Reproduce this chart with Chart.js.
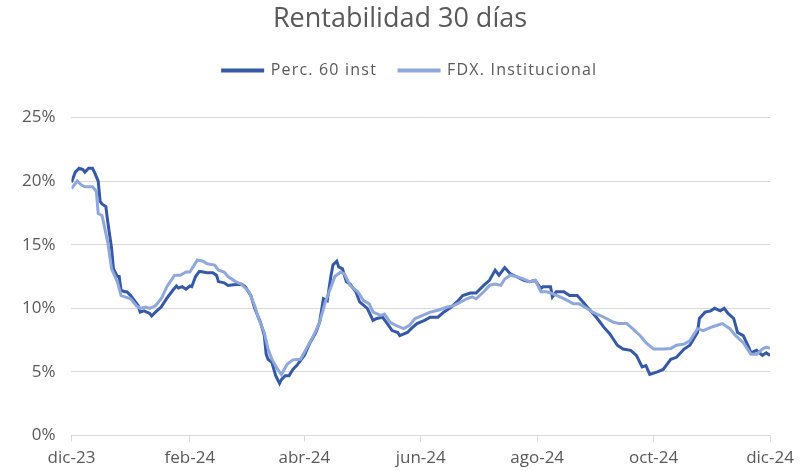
<!DOCTYPE html>
<html>
<head>
<meta charset="utf-8">
<title>Rentabilidad 30 días</title>
<script src="https://cdn.jsdelivr.net/npm/chart.js@4.4.1/dist/chart.umd.min.js"></script>
<style>
  html, body { margin: 0; padding: 0; background: #fff; }
  #chart { display: block; }
</style>
</head>
<body>
<canvas id="chart" width="807" height="471"></canvas>
<script>
// --- data (x = days since 1 Dec 2023, y = 30-day return in %) ---
const chartTitle = 'Rentabilidad 30 días';
const seriesNames = ['Perc. 60 inst', 'FDX. Institucional'];

const percDays = [
  0, 2, 4, 6, 7, 9, 11, 12, 14, 15,
  16, 18, 19, 21, 22, 24, 25, 26, 28, 29,
  31, 33, 35, 36, 38, 41, 42, 44, 47, 50,
  53, 55, 56, 58, 60, 62, 63, 65, 67, 69,
  71, 74, 76, 77, 80, 82, 85, 89, 91, 94,
  96, 99, 101, 102, 103, 105, 107, 109, 110, 112,
  114, 116, 118, 122, 125, 128, 130, 132, 134, 136,
  137, 139, 140, 142, 144, 146, 149, 151, 155, 158,
  160, 163, 165, 168, 171, 172, 176, 178, 181, 185,
  188, 192, 195, 199, 202, 205, 209, 212, 216, 219,
  222, 224, 227, 230, 233, 237, 240, 243, 246, 247,
  251, 252, 254, 258, 261, 265, 268, 272, 275, 279,
  282, 286, 289, 293, 296, 299, 301, 303, 307, 310,
  314, 317, 321, 324, 328, 329, 332, 335, 337, 340,
  342, 344, 347, 349, 352, 355, 356, 359, 362, 364,
  366
];
const percValues = [
  19.9, 20.7, 21.0, 20.9, 20.7, 21.0, 21.0, 20.7, 20.0, 18.4,
  18.2, 18.0, 16.8, 14.7, 13.1, 12.5, 12.5, 11.4, 11.3, 11.3,
  11.0, 10.6, 10.2, 9.7, 9.8, 9.6, 9.4, 9.7, 10.1, 10.8,
  11.4, 11.75, 11.6, 11.7, 11.5, 11.75, 11.7, 12.5, 12.9, 12.85,
  12.8, 12.8, 12.6, 12.1, 12.0, 11.8, 11.85, 11.9, 11.7, 11.0,
  10.0, 8.9, 7.9, 6.4, 6.0, 5.75, 4.7, 4.1, 4.4, 4.7,
  4.7, 5.2, 5.5, 6.3, 7.3, 8.1, 8.9, 10.75, 10.6, 12.6,
  13.4, 13.7, 13.25, 13.1, 12.1, 11.9, 11.3, 10.5, 10.0, 9.05,
  9.2, 9.3, 8.9, 8.25, 8.1, 7.85, 8.1, 8.4, 8.8, 9.05,
  9.3, 9.3, 9.7, 10.1, 10.5, 11.0, 11.2, 11.2, 11.8, 12.2,
  13.0, 12.6, 13.2, 12.7, 12.5, 12.2, 12.1, 12.2, 11.55, 11.7,
  11.7, 10.9, 11.3, 11.3, 11.0, 11.0, 10.5, 9.8, 9.3, 8.5,
  8.0, 7.1, 6.8, 6.7, 6.3, 5.4, 5.5, 4.8, 5.0, 5.2,
  6.0, 6.15, 6.8, 7.1, 8.1, 9.2, 9.7, 9.8, 10.0, 9.8,
  10.0, 9.6, 9.2, 8.1, 7.85, 6.9, 6.5, 6.7, 6.3, 6.5,
  6.3
];

const fdxDays = [
  0, 3, 5, 7, 11, 13, 14, 16, 19, 21,
  24, 26, 28, 31, 34, 36, 39, 41, 44, 47,
  50, 54, 57, 60, 62, 66, 69, 71, 75, 77,
  80, 82, 86, 89, 93, 96, 98, 101, 103, 105,
  108, 110, 113, 116, 120, 123, 127, 130, 133, 136,
  138, 141, 143, 146, 150, 153, 156, 158, 162, 164,
  167, 170, 174, 177, 180, 184, 188, 192, 197, 200,
  204, 207, 210, 212, 216, 219, 222, 225, 227, 230,
  233, 237, 240, 243, 246, 249, 252, 256, 260, 263,
  266, 270, 273, 279, 284, 287, 291, 294, 298, 301,
  305, 310, 314, 317, 321, 324, 328, 331, 335, 338,
  341, 345, 348, 352, 356, 359, 362, 364, 366
];
const fdxValues = [
  19.4, 20.0, 19.7, 19.55, 19.55, 19.2, 17.45, 17.3, 15.2, 13.1,
  12.1, 11.0, 10.9, 10.75, 10.2, 10.0, 10.1, 10.0, 10.2, 10.75,
  11.7, 12.6, 12.6, 12.85, 12.85, 13.8, 13.7, 13.5, 13.4, 13.0,
  12.85, 12.5, 12.1, 11.9, 11.3, 10.2, 9.2, 8.1, 6.8, 6.0,
  5.2, 4.8, 5.6, 5.95, 6.0, 6.8, 7.9, 8.9, 10.5, 11.7,
  12.5, 12.85, 12.7, 11.8, 11.3, 10.6, 10.35, 9.7, 9.45, 9.55,
  8.9, 8.65, 8.4, 8.65, 9.2, 9.45, 9.7, 9.85, 10.1, 10.2,
  10.5, 10.75, 10.9, 10.75, 11.3, 11.8, 11.9, 11.8, 12.3, 12.6,
  12.5, 12.3, 12.1, 12.2, 11.3, 11.3, 11.15, 10.9, 10.6, 10.35,
  10.35, 10.0, 9.7, 9.3, 8.9, 8.8, 8.8, 8.4, 7.85, 7.3,
  6.8, 6.8, 6.85, 7.1, 7.2, 7.45, 8.4, 8.25, 8.5, 8.65,
  8.8, 8.4, 7.85, 7.3, 6.4, 6.4, 6.8, 6.95, 6.85
];

const tickDays = [0, 62, 122, 183, 244, 305, 366];
const tickLabels = ['dic-23', 'feb-24', 'abr-24', 'jun-24', 'ago-24', 'oct-24', 'dic-24'];

// --- style ---
const textColor = '#595959';
const gridColor = '#D9D9D9';
const percColor = '#3559A6';
const fdxColor = '#8FA8DB';
const fontFamily = '"Open Sans", "Liberation Sans", sans-serif';

function toPoints(days, values) {
  return days.map((d, i) => ({ x: d, y: values[i] }));
}

function lineDataset(label, days, values, color, order) {
  return {
    label,
    data: toPoints(days, values),
    borderColor: color,
    backgroundColor: color,
    borderWidth: 3,
    pointRadius: 0,
    tension: 0,
    order
  };
}

// run a box's draw with a horizontal shift and optional letter spacing
function wrapDraw(box, shiftX, spacing) {
  const draw = box.draw;
  box.draw = function () {
    const ctx = box.ctx;
    ctx.save();
    ctx.translate(shiftX, 0);
    ctx.letterSpacing = spacing;
    draw.apply(box, arguments);
    ctx.restore();
  };
}

// title/legend nudged to the page centre, wider legend letters, room under the legend
const headerTweaks = {
  id: 'headerTweaks',
  beforeInit(chart) {
    const legend = chart.legend;
    const fit = legend.fit;
    legend.fit = function () {
      legend.ctx.letterSpacing = '1.2px';
      fit.call(legend);
      legend.ctx.letterSpacing = '0px';
      this.height += 29;
    };
    wrapDraw(legend, 22, '1.2px');
    if (chart.titleBlock) wrapDraw(chart.titleBlock, 12, '0px');
  }
};

function buildChart() {
  const ctx = document.getElementById('chart').getContext('2d');
  return new Chart(ctx, {
    type: 'line',
    data: {
      datasets: [
        lineDataset(seriesNames[0], percDays, percValues, percColor, 1),
        lineDataset(seriesNames[1], fdxDays, fdxValues, fdxColor, 0)
      ]
    },
    options: {
      responsive: false,
      animation: false,
      devicePixelRatio: 1,
      layout: { padding: { left: 6, right: 37, bottom: -3, top: 0 } },
      scales: {
        x: {
          type: 'linear',
          min: 0,
          max: 366,
          afterBuildTicks: scale => { scale.ticks = tickDays.map(v => ({ value: v })); },
          ticks: {
            autoSkip: false,
            maxRotation: 0,
            padding: 6,
            color: textColor,
            font: { family: fontFamily, size: 17 },
            callback: value => tickLabels[tickDays.indexOf(value)]
          },
          grid: { drawOnChartArea: false, drawTicks: true, tickLength: 6, color: gridColor },
          border: { display: true, color: gridColor, width: 1 }
        },
        y: {
          min: 0,
          max: 25,
          ticks: {
            stepSize: 5,
            padding: 16,
            color: textColor,
            font: { family: fontFamily, size: 17 },
            callback: value => value + '%'
          },
          grid: { color: gridColor, drawTicks: false },
          border: { display: false }
        }
      },
      plugins: {
        title: {
          display: true,
          text: chartTitle,
          color: textColor,
          font: { family: fontFamily, size: 27, weight: 'normal' },
          padding: { top: 3, bottom: 5 }
        },
        legend: {
          display: true,
          position: 'top',
          labels: {
            color: textColor,
            font: { family: fontFamily, size: 16 },
            boxWidth: 40,
            boxHeight: 1,
            padding: 22,
            sort: (a, b) => a.datasetIndex - b.datasetIndex
          }
        },
        tooltip: { enabled: false }
      }
    },
    plugins: [headerTweaks]
  });
}

window.addEventListener('DOMContentLoaded', buildChart);
</script>
</body>
</html>
